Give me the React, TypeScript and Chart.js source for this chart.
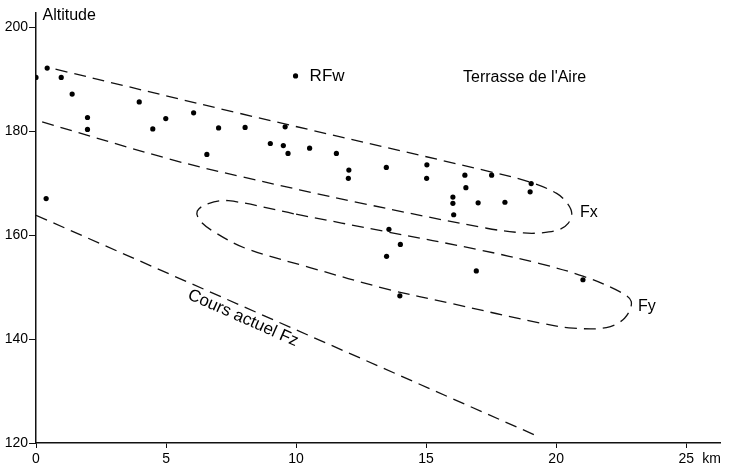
import React, { useEffect, useRef } from "react";
import { Chart, registerables } from "chart.js";

Chart.register(...registerables);

// ---- data (km, altitude m) ----
const terracePoints = [
  { x: 0, y: 190.3 }, { x: 0.43, y: 192.1 }, { x: 0.97, y: 190.3 }, { x: 1.39, y: 187.1 },
  { x: 1.98, y: 182.6 }, { x: 1.98, y: 180.3 }, { x: 3.97, y: 185.6 }, { x: 4.49, y: 180.4 },
  { x: 4.99, y: 182.4 }, { x: 6.06, y: 183.5 }, { x: 6.57, y: 175.5 }, { x: 7.02, y: 180.6 },
  { x: 8.04, y: 180.7 }, { x: 0.39, y: 167.0 }, { x: 9.58, y: 180.8 }, { x: 9.01, y: 177.6 },
  { x: 9.51, y: 177.2 }, { x: 9.69, y: 175.7 }, { x: 10.52, y: 176.7 }, { x: 11.55, y: 175.7 },
  { x: 12.03, y: 172.5 }, { x: 12.01, y: 170.9 }, { x: 13.47, y: 173.0 }, { x: 15.03, y: 173.5 },
  { x: 15.02, y: 170.9 }, { x: 16.49, y: 171.5 }, { x: 16.53, y: 169.1 }, { x: 16.03, y: 167.3 },
  { x: 16.03, y: 166.1 }, { x: 17.0, y: 166.2 }, { x: 16.06, y: 163.9 }, { x: 13.57, y: 161.1 },
  { x: 17.52, y: 171.5 }, { x: 18.03, y: 166.3 }, { x: 19.04, y: 169.9 }, { x: 19.0, y: 168.3 },
  { x: 16.93, y: 153.1 }, { x: 21.03, y: 151.4 }, { x: 14.01, y: 158.2 }, { x: 13.48, y: 155.9 },
  { x: 13.99, y: 148.3 },
];
const rfwPoint = [{ x: 9.98, y: 190.6 }];

const fxEnvelope = [
  { x: 0.75, y: 191.9 }, { x: 7.83, y: 183.4 }, { x: 17.44, y: 172.2 }, { x: 19.04, y: 170.1 },
  { x: 20.02, y: 168.0 }, { x: 20.43, y: 166.1 }, { x: 20.6, y: 164.2 }, { x: 20.47, y: 162.3 },
  { x: 20.1, y: 161.0 }, { x: 19.38, y: 160.4 }, { x: 18.74, y: 160.4 }, { x: 17.33, y: 161.3 },
  { x: 12.44, y: 166.2 }, { x: 7.83, y: 171.3 }, { x: 5.14, y: 174.6 }, { x: 0, y: 182.1 },
];
const fyEnvelope = [
  { x: 10.0, y: 164.0 }, { x: 13.5, y: 160.6 }, { x: 17.0, y: 157.2 }, { x: 19.37, y: 154.5 },
  { x: 21.03, y: 152.1 }, { x: 22.44, y: 149.1 }, { x: 22.89, y: 147.2 }, { x: 22.63, y: 144.0 },
  { x: 21.93, y: 142.2 }, { x: 20.65, y: 142.1 }, { x: 19.37, y: 143.1 }, { x: 16.0, y: 146.8 },
  { x: 13.5, y: 149.6 }, { x: 10.5, y: 153.8 }, { x: 8.08, y: 157.4 }, { x: 6.85, y: 160.6 },
  { x: 6.3, y: 162.8 }, { x: 6.2, y: 164.6 }, { x: 6.6, y: 166.0 }, { x: 7.4, y: 166.6 },
  { x: 10.0, y: 164.0 },
];
const fzLine = [{ x: 0, y: 163.8 }, { x: 19.2, y: 121.5 }];

const xTicks = [0, 5, 10, 15, 20, 25];
const yTicks = [120, 140, 160, 180, 200];
const xLabels = ["0", "5", "10", "15", "20", "25"];

// ---- annotation texts (data coordinates) ----
const annotations = [
  { text: "Altitude", x: 0.25, y: 202.2, size: 16 },
  { text: "RFw", x: 10.52, y: 190.6, size: 17 },
  { text: "Terrasse de l'Aire", x: 16.42, y: 190.2, size: 16 },
  { text: "Fx", x: 20.92, y: 164.4, size: 16 },
  { text: "Fy", x: 23.15, y: 146.2, size: 16 },
];

const FONT = '"Liberation Sans", Arial, Helvetica, sans-serif';

const textPlugin = {
  id: "texts",
  afterDatasetsDraw(chart: any) {
    const { ctx, scales } = chart;
    const xs = scales.x;
    const ys = scales.y;
    ctx.save();
    ctx.fillStyle = "#000";
    ctx.textBaseline = "middle";
    ctx.textAlign = "left";
    for (const a of annotations) {
      ctx.font = `${a.size}px ${FONT}`;
      ctx.fillText(a.text, xs.getPixelForValue(a.x), ys.getPixelForValue(a.y));
    }
    // km unit next to last x tick
    ctx.font = `14px ${FONT}`;
    ctx.fillText("km", xs.getPixelForValue(25.62), ys.bottom + 16);
    // rotated label along the present course
    const x0 = xs.getPixelForValue(fzLine[0].x);
    const y0 = ys.getPixelForValue(fzLine[0].y);
    const x1 = xs.getPixelForValue(fzLine[1].x);
    const y1 = ys.getPixelForValue(fzLine[1].y);
    const ang = Math.atan2(y1 - y0, x1 - x0);
    ctx.translate(xs.getPixelForValue(7.96), ys.getPixelForValue(144.0));
    ctx.rotate(ang);
    ctx.textAlign = "center";
    ctx.font = `17px ${FONT}`;
    ctx.fillText("Cours actuel Fz", 0, 0);
    ctx.restore();
  },
};

const dashed = (data: any[]) => ({
  data,
  showLine: true,
  borderColor: "#111",
  borderWidth: 1.3,
  borderDash: [12, 7],
  pointRadius: 0,
  tension: 0.35,
  fill: false,
});

export default function App() {
  const ref = useRef<HTMLCanvasElement | null>(null);
  useEffect(() => {
    if (!ref.current) return;
    const chart = new Chart(ref.current, {
      type: "scatter",
      data: {
        datasets: [
          dashed(fxEnvelope) as any,
          dashed(fyEnvelope) as any,
          { ...dashed(fzLine), tension: 0 } as any,
          { data: terracePoints, pointRadius: 2.6, backgroundColor: "#000", borderWidth: 0, showLine: false },
          { data: rfwPoint, pointRadius: 2.6, backgroundColor: "#000", borderWidth: 0, showLine: false },
        ],
      },
      plugins: [textPlugin],
      options: {
        animation: false,
        responsive: false,
        devicePixelRatio: 1,
        layout: { padding: { top: 13, right: 9, left: 0, bottom: 0 } },
        plugins: { legend: { display: false }, tooltip: { enabled: false } },
        scales: {
          x: {
            type: "linear",
            min: 0,
            max: 26.3,
            afterBuildTicks: (s: any) => { s.ticks = xTicks.map((v) => ({ value: v })); },
            afterFit: (s: any) => { s.height = 26; },
            ticks: {
              color: "#000",
              font: { family: FONT, size: 14 },
              padding: 3,
              maxRotation: 0,
              callback: (v: any) => xLabels[xTicks.indexOf(Number(v))] ?? "",
            },
            grid: { display: true, drawOnChartArea: false, drawTicks: true, tickLength: 5, color: "#111", lineWidth: 1 },
            border: { display: true, color: "#111", width: 1.5 },
          },
          y: {
            type: "linear",
            min: 120,
            max: 202.7,
            afterBuildTicks: (s: any) => { s.ticks = yTicks.map((v) => ({ value: v })); },
            afterFit: (s: any) => { s.width = 36; },
            ticks: {
              color: "#000",
              font: { family: FONT, size: 14 },
              padding: 1,
              callback: (v: any) => String(v),
            },
            grid: { display: true, drawOnChartArea: false, drawTicks: true, tickLength: 7, color: "#111", lineWidth: 1 },
            border: { display: true, color: "#111", width: 1.5 },
          },
        },
      },
    });
    return () => chart.destroy();
  }, []);
  return (
    <div style={{ position: "fixed", left: 0, top: 0, width: 729, height: 469, background: "#fff" }}>
      <canvas ref={ref} width={729} height={469} style={{ display: "block" }} />
    </div>
  );
}
